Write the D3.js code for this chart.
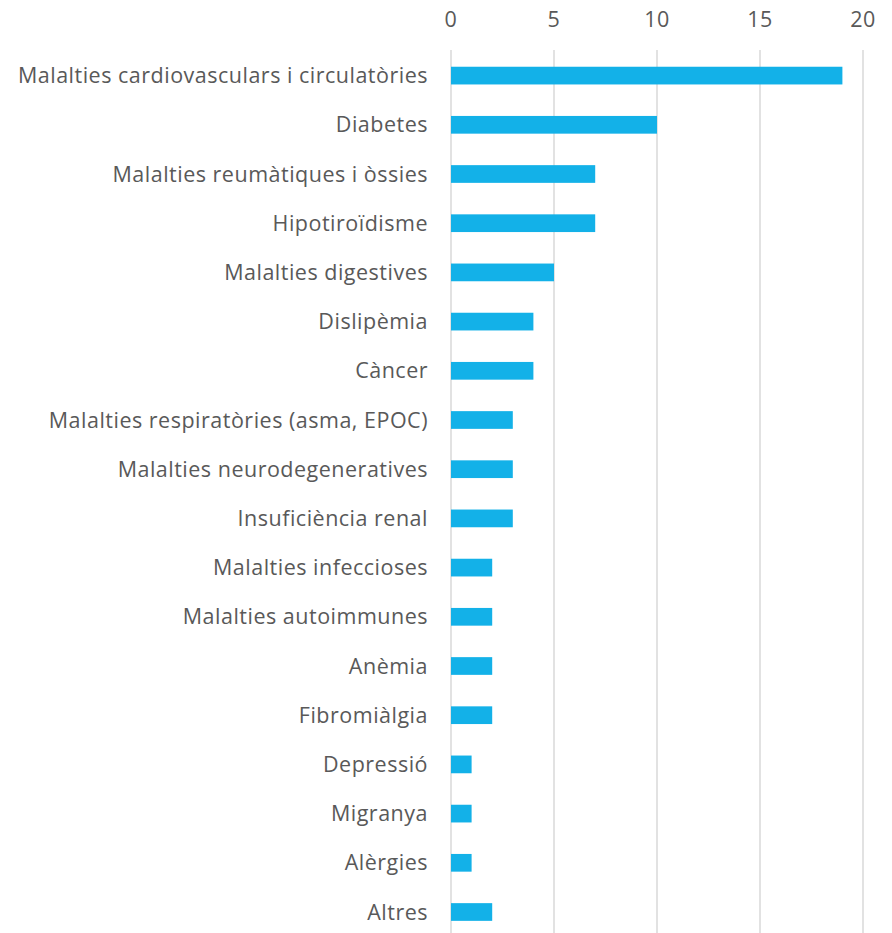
<!DOCTYPE html>
<html lang="ca">
<head>
    <meta charset="UTF-8">
    <title>Malalties</title>
    <script src="https://cdn.jsdelivr.net/npm/d3@7"></script>
    <style>
        body{ margin:0; background:#fff; }
        .lbl{ fill:#595959; font-size:21.5px; letter-spacing:0.5px; font-family:"Open Sans", Roboto, sans-serif; }
    </style>
</head>
<body>
<svg id="main" width="892" height="933"></svg>
<script>
    // data
    let categories = ['Malalties cardiovasculars i circulatòries', 'Diabetes', 'Malalties reumàtiques i òssies',
        'Hipotiroïdisme', 'Malalties digestives', 'Dislipèmia', 'Càncer', 'Malalties respiratòries (asma, EPOC)',
        'Malalties neurodegeneratives', 'Insuficiència renal', 'Malalties infeccioses', 'Malalties autoimmunes',
        'Anèmia', 'Fibromiàlgia', 'Depressió', 'Migranya', 'Alèrgies', 'Altres'];
    let values = [19, 10, 7, 7, 5, 4, 4, 3, 3, 3, 2, 2, 2, 2, 1, 1, 1, 2];
    let ticks = [0, 5, 10, 15, 20];

    let svg = d3.select('svg#main');

    let xScale = d3.scaleLinear().domain([0, 20]).range([451, 863]);
    let yScale = d3.scaleBand().domain(categories).range([51, 936.6]).paddingInner(0.64).paddingOuter(0.32);

    // grid lines
    svg.append('g').selectAll('line')
        .data(ticks)
        .enter()
        .append('line')
        .attr('x1', d => xScale(d)).attr('x2', d => xScale(d))
        .attr('y1', 50).attr('y2', 933)
        .style('stroke', '#d9d9d9').style('stroke-width', 1.5);

    // tick labels
    svg.append('g').selectAll('text')
        .data(ticks)
        .enter()
        .append('text')
        .attr('class', 'lbl')
        .attr('x', d => xScale(d))
        .attr('y', 27)
        .attr('text-anchor', 'middle')
        .text(d => d);

    // bars
    svg.append('g').selectAll('rect')
        .data(values)
        .enter()
        .append('rect')
        .attr('x', xScale(0))
        .attr('y', (d, i) => yScale(categories[i]))
        .attr('width', d => xScale(d) - xScale(0))
        .attr('height', yScale.bandwidth())
        .style('fill', '#13b1e8');

    // category labels
    svg.append('g').selectAll('text')
        .data(categories)
        .enter()
        .append('text')
        .attr('class', 'lbl')
        .attr('x', 428)
        .attr('y', d => yScale(d) + yScale.bandwidth() / 2)
        .attr('dy', '0.35em')
        .attr('text-anchor', 'end')
        .text(d => d);
</script>
</body>
</html>
